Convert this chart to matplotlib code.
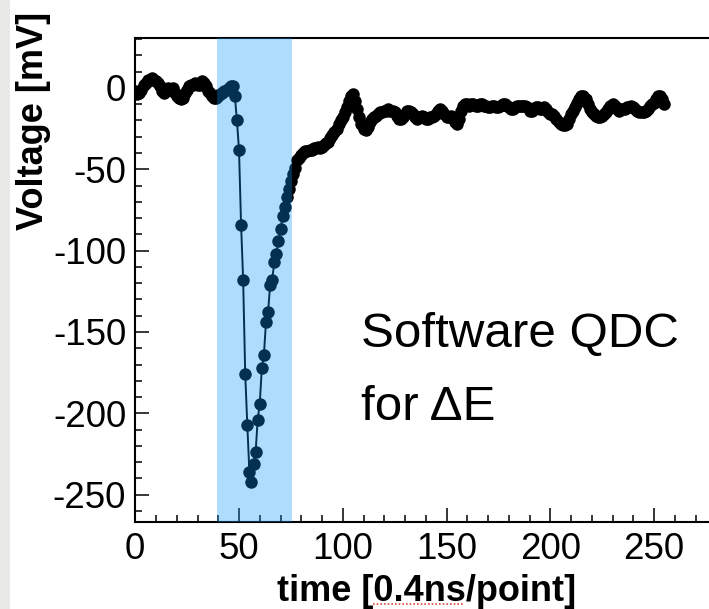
import numpy as np
import matplotlib
matplotlib.use("Agg")
import matplotlib.pyplot as plt
from matplotlib.lines import Line2D
from matplotlib.patches import Rectangle

plt.rcParams['font.family'] = ['Liberation Sans', 'DejaVu Sans']
plt.rcParams['axes.unicode_minus'] = False

# ---- data ----
baseline = [-2, -4, -3, -1, 2, 3, 5, 5, 6, 5, 4, 3, 1, -2, -3, -2, 0, -1, 0, -3,
            -5, -6, -7, -6, -3, -1, 1, 2, 2, 3, 2, 2, 4, 3, 1, -2, -3, -5, -6, -6,
            -5, -4, -3, -2, -1, 0, 1, 1]                       # t = 0..47
pulse = [-5, -20, -38, -84, -118, -176, -207, -236, -242, -231, -224, -204, -194,
         -172, -164, -144, -138, -121, -118, -107, -102, -94, -87, -79, -73, -67,
         -62, -57, -53, -49, -44]                              # t = 48..78
recovery = [-43, -41, -40, -39, -39, -38, -38, -37, -37, -36, -37, -36, -35, -34,
            -33, -31, -29, -27, -25, -22, -20, -18, -15, -12, -8, -5, -4, -8, -13,
            -18, -22, -25, -26, -24, -21, -19, -18]            # t = 79..115
tail = [-17, -16, -15, -15, -14, -14, -13, -14, -14, -15, -17, -19, -19, -18, -16,
        -14, -14, -15, -16, -18, -19, -18, -17, -18, -19, -19, -18, -18, -17, -16,
        -14, -13, -14, -16, -18, -18, -17, -18, -21, -22, -19, -14, -11, -10, -10,
        -11, -10, -10, -11, -11, -10, -10, -11, -11, -12, -12, -11, -11, -12, -12,
        -11, -10, -10, -11, -12, -13, -13, -12, -11, -11, -11, -11, -11, -12, -14,
        -14, -13, -12, -12, -13, -13, -12, -13, -15, -16, -16, -17, -19, -21, -22,
        -23, -23, -22, -19, -16, -14, -12, -9, -7, -5, -5, -7, -10, -13, -15, -16,
        -17, -18, -18, -17, -16, -15, -13, -11, -10, -11, -13, -14, -13, -13, -13,
        -12, -12, -11, -12, -13, -14, -15, -15, -15, -14, -13, -11, -10, -9, -7,
        -5, -5, -7, -10]                                       # t = 116..255
voltage = baseline + pulse + recovery + tail
time = list(range(len(voltage)))

qdc_window = [39.5, 75.5]
x_ticks = [0, 50, 100, 150, 200, 250]
y_ticks = [-250, -200, -150, -100, -50, 0]
xlim = (0, 290)
ylim = (-266.6, 30.7)

# ---- figure ----
W, H = 709, 609
fig = plt.figure(figsize=(W / 100, H / 100), dpi=100)
fig.patch.set_facecolor('white')

def fx(px):
    return px / W

def fy(py):
    return 1 - py / H

# grey strip at the left edge
fig.add_artist(Rectangle((0, 0), fx(10), 1, transform=fig.transFigure,
                         facecolor='#e9e9e7', edgecolor='none', zorder=0))

ax_left, ax_top, ax_bottom = 135.25, 38.0, 521.7
ax_width = (xlim[1] - xlim[0]) * 2.075
ax = fig.add_axes([fx(ax_left), fy(ax_bottom), ax_width / W, (ax_bottom - ax_top) / H])

ax.plot(time, voltage, color='black', lw=1.4, marker='o', markersize=9,
        markeredgewidth=0, zorder=2)
ax.axvspan(qdc_window[0], qdc_window[1], color=(12 / 255, 148 / 255, 246 / 255),
           alpha=0.33, lw=0, zorder=3)

ax.set_xlim(*xlim)
ax.set_ylim(*ylim)
ax.set_xticks(x_ticks)
ax.set_yticks(y_ticks)
ax.set_xticks(np.arange(0, 291, 10), minor=True)
ax.set_yticks(np.arange(-260, 31, 10), minor=True)
ax.tick_params(which='both', direction='in', width=1.1, colors='black',
               labelsize=26.5, top=False, right=False)
ax.tick_params(which='major', length=10)
ax.tick_params(which='minor', length=5)
ax.tick_params(axis='x', pad=7.5)
ax.tick_params(axis='y', pad=6.5)
for s in ax.spines.values():
    s.set_linewidth(1.5)
    s.set_color('black')

# axis labels
fig.text(fx(427), fy(601), 'time [0.4ns/point]', fontsize=26, fontweight='bold',
         ha='center', va='baseline')
fig.text(fx(16), fy(121), 'Voltage [mV]', fontsize=26, fontweight='bold',
         rotation=90, ha='left', va='center')

# annotation
fig.text(fx(361), fy(347), 'Software QDC', fontsize=35.5, ha='left', va='baseline')
fig.text(fx(361), fy(420), 'for ΔE', fontsize=35.5, ha='left', va='baseline')

# red dotted underline under "0.4ns"
fig.add_artist(Line2D([fx(373), fx(464)], [fy(604), fy(604)], transform=fig.transFigure,
                      color='#e0473c', lw=1.2, linestyle=(0, (1, 1.2))))

fig.savefig('out.png', dpi=100)
